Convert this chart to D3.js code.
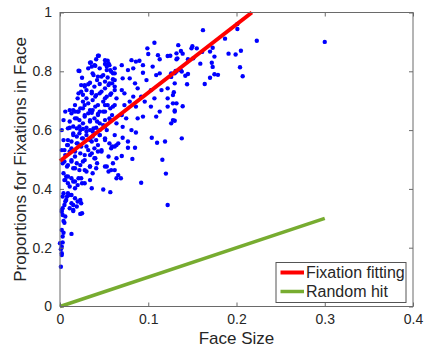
<!DOCTYPE html>
<html>
<head>
<meta charset="utf-8">
<script src="https://cdn.jsdelivr.net/npm/d3@7"></script>
<style>
  body { margin: 0; background: #fff; }
  svg text { font-family: "Liberation Sans", Arial, sans-serif; fill: #262626; }
</style>
</head>
<body>
<svg id="chart" width="427" height="347"></svg>
<script>
const W = 427
const H = 347

// face size vs proportion of fixations in face
const nearAxisPts = [
  [0.002, 0.322], [0.003, 0.311], [0.004, 0.291], [0.005, 0.285], [0.002, 0.260], [0.004, 0.251],
  [0.013, 0.247], [0.003, 0.238], [0.003, 0.218], [0.000, 0.215], [0.002, 0.203], [0.001, 0.195],
  [0.002, 0.181], [0.002, 0.175], [0.001, 0.135], [0.015, 0.325], [0.023, 0.315]
]
const upperLeftPts = [
  [0.043, 0.853], [0.035, 0.830], [0.040, 0.819], [0.032, 0.810], [0.051, 0.838], [0.055, 0.827],
  [0.053, 0.816], [0.057, 0.804], [0.062, 0.810], [0.060, 0.793], [0.022, 0.801], [0.025, 0.778],
  [0.024, 0.753], [0.028, 0.748], [0.032, 0.756], [0.038, 0.787], [0.042, 0.770], [0.047, 0.782],
  [0.051, 0.765], [0.055, 0.753], [0.059, 0.759], [0.062, 0.770], [0.021, 0.725], [0.026, 0.720],
  [0.030, 0.708], [0.036, 0.731], [0.040, 0.714], [0.045, 0.725], [0.051, 0.708], [0.057, 0.720],
  [0.062, 0.736], [0.017, 0.685], [0.023, 0.674], [0.028, 0.685], [0.034, 0.668], [0.040, 0.680],
  [0.045, 0.663], [0.051, 0.685], [0.057, 0.674], [0.062, 0.685], [0.017, 0.663], [0.011, 0.668],
  [0.044, 0.853], [0.041, 0.841], [0.034, 0.829], [0.039, 0.821], [0.036, 0.816], [0.054, 0.836],
  [0.051, 0.825], [0.056, 0.821], [0.045, 0.810], [0.053, 0.804], [0.058, 0.799], [0.062, 0.793],
  [0.021, 0.802], [0.037, 0.793], [0.043, 0.782], [0.049, 0.787], [0.054, 0.779], [0.060, 0.773],
  [0.028, 0.753], [0.034, 0.761], [0.039, 0.748], [0.045, 0.757], [0.051, 0.742], [0.056, 0.759],
  [0.062, 0.748], [0.024, 0.731], [0.030, 0.736], [0.036, 0.725], [0.041, 0.719], [0.047, 0.731],
  [0.053, 0.714], [0.058, 0.725], [0.064, 0.708], [0.020, 0.708], [0.026, 0.697], [0.032, 0.691],
  [0.037, 0.702], [0.043, 0.685], [0.049, 0.697], [0.054, 0.685], [0.060, 0.680], [0.015, 0.668],
  [0.020, 0.663], [0.026, 0.674], [0.032, 0.657], [0.037, 0.668], [0.043, 0.651], [0.049, 0.663],
  [0.017, 0.640], [0.022, 0.634], [0.028, 0.646], [0.034, 0.629], [0.039, 0.640], [0.045, 0.623],
  [0.051, 0.634], [0.056, 0.640]
]
const upperMidPts = [
  [0.107, 0.897], [0.099, 0.878], [0.100, 0.859], [0.111, 0.855], [0.113, 0.841], [0.122, 0.852],
  [0.132, 0.861], [0.081, 0.838], [0.086, 0.833], [0.090, 0.836], [0.070, 0.821], [0.077, 0.804],
  [0.083, 0.810], [0.094, 0.821], [0.105, 0.816], [0.113, 0.793], [0.109, 0.787], [0.126, 0.793],
  [0.132, 0.799], [0.071, 0.776], [0.079, 0.776], [0.085, 0.759], [0.094, 0.795], [0.098, 0.770],
  [0.088, 0.742], [0.103, 0.736], [0.115, 0.736], [0.122, 0.742], [0.130, 0.759], [0.070, 0.736],
  [0.073, 0.725], [0.079, 0.697], [0.083, 0.714], [0.092, 0.714], [0.096, 0.697], [0.107, 0.708],
  [0.122, 0.708], [0.128, 0.719], [0.132, 0.691], [0.073, 0.685], [0.086, 0.680], [0.103, 0.680],
  [0.113, 0.663], [0.122, 0.680], [0.070, 0.651], [0.075, 0.640], [0.088, 0.640], [0.094, 0.646],
  [0.109, 0.646], [0.128, 0.634], [0.130, 0.663]
]
const middleLeftPts = [
  [0.006, 0.663], [0.013, 0.657], [0.021, 0.663], [0.028, 0.651], [0.036, 0.659], [0.043, 0.655],
  [0.051, 0.663], [0.059, 0.651], [0.004, 0.634], [0.011, 0.629], [0.019, 0.640], [0.026, 0.623],
  [0.034, 0.634], [0.042, 0.629], [0.049, 0.617], [0.057, 0.634], [0.064, 0.623], [0.002, 0.600],
  [0.009, 0.606], [0.015, 0.589], [0.023, 0.600], [0.030, 0.595], [0.038, 0.606], [0.045, 0.583],
  [0.053, 0.600], [0.062, 0.583], [0.004, 0.566], [0.008, 0.549], [0.013, 0.561], [0.019, 0.555],
  [0.025, 0.572], [0.030, 0.544], [0.036, 0.561], [0.043, 0.549], [0.051, 0.566], [0.059, 0.544],
  [0.064, 0.549], [0.002, 0.532], [0.006, 0.515], [0.011, 0.527], [0.017, 0.510], [0.023, 0.521],
  [0.028, 0.498], [0.034, 0.515], [0.040, 0.504], [0.047, 0.527], [0.055, 0.510], [0.060, 0.487],
  [0.003, 0.487], [0.008, 0.476], [0.013, 0.493], [0.017, 0.470], [0.023, 0.481], [0.028, 0.464],
  [0.034, 0.476], [0.042, 0.487], [0.051, 0.476], [0.055, 0.459], [0.062, 0.464], [0.064, 0.436],
  [0.004, 0.453], [0.006, 0.430], [0.009, 0.442], [0.015, 0.425], [0.021, 0.436], [0.025, 0.419],
  [0.017, 0.402], [0.049, 0.398], [0.057, 0.389], [0.004, 0.385], [0.008, 0.374], [0.006, 0.357],
  [0.011, 0.379], [0.013, 0.351], [0.019, 0.340], [0.023, 0.362], [0.025, 0.317], [0.002, 0.328],
  [0.006, 0.306], [0.015, 0.328],
  [0.011, 0.608], [0.015, 0.612], [0.019, 0.606], [0.022, 0.612], [0.026, 0.604], [0.030, 0.608],
  [0.034, 0.600], [0.037, 0.595], [0.041, 0.608], [0.045, 0.600], [0.051, 0.612], [0.009, 0.566],
  [0.015, 0.583], [0.019, 0.578], [0.022, 0.589], [0.026, 0.572], [0.030, 0.583], [0.034, 0.566],
  [0.037, 0.578], [0.041, 0.566], [0.045, 0.583], [0.051, 0.572], [0.056, 0.555], [0.058, 0.538],
  [0.062, 0.544], [0.005, 0.532], [0.009, 0.549], [0.013, 0.538], [0.017, 0.527], [0.020, 0.555],
  [0.024, 0.544], [0.028, 0.515], [0.032, 0.532], [0.036, 0.521], [0.039, 0.538], [0.043, 0.527],
  [0.047, 0.532], [0.039, 0.504], [0.005, 0.493], [0.009, 0.481], [0.013, 0.498], [0.015, 0.470],
  [0.019, 0.487], [0.022, 0.464], [0.026, 0.493], [0.030, 0.459], [0.034, 0.476], [0.037, 0.453],
  [0.041, 0.470], [0.053, 0.476], [0.058, 0.464], [0.064, 0.504], [0.005, 0.430], [0.009, 0.419],
  [0.007, 0.442], [0.011, 0.408], [0.013, 0.436], [0.017, 0.425], [0.020, 0.413], [0.024, 0.436],
  [0.028, 0.419], [0.034, 0.430], [0.036, 0.402], [0.003, 0.374], [0.007, 0.362], [0.005, 0.345],
  [0.009, 0.385], [0.013, 0.379], [0.017, 0.368], [0.015, 0.345], [0.020, 0.357], [0.024, 0.351],
  [0.011, 0.334], [0.003, 0.334]
]
const middleRightPts = [
  [0.071, 0.611], [0.081, 0.600], [0.086, 0.592], [0.071, 0.574], [0.066, 0.555], [0.077, 0.561],
  [0.077, 0.540], [0.085, 0.540], [0.104, 0.574], [0.110, 0.557], [0.119, 0.561], [0.070, 0.512],
  [0.082, 0.502], [0.116, 0.499], [0.120, 0.452], [0.066, 0.447], [0.069, 0.436], [0.092, 0.421],
  [0.122, 0.345], [0.130, 0.632], [0.126, 0.623], [0.138, 0.572]
]
const farRightPts = [
  [0.223, 0.904], [0.201, 0.961], [0.201, 0.944], [0.162, 0.940], [0.187, 0.911], [0.205, 0.870],
  [0.199, 0.857], [0.191, 0.860], [0.204, 0.814], [0.207, 0.783], [0.175, 0.850], [0.173, 0.880],
  [0.170, 0.867], [0.172, 0.829], [0.173, 0.815], [0.175, 0.790], [0.179, 0.788], [0.170, 0.778],
  [0.164, 0.757], [0.159, 0.826], [0.161, 0.866], [0.155, 0.878], [0.150, 0.885], [0.149, 0.878],
  [0.151, 0.844], [0.145, 0.841], [0.145, 0.791], [0.142, 0.785], [0.144, 0.756], [0.138, 0.799],
  [0.137, 0.803], [0.133, 0.844], [0.132, 0.841], [0.134, 0.889], [0.137, 0.869], [0.139, 0.860],
  [0.131, 0.801], [0.130, 0.793], [0.129, 0.729], [0.128, 0.691], [0.130, 0.667], [0.139, 0.681],
  [0.126, 0.781], [0.125, 0.853], [0.300, 0.900]
]

const fitLine = [[0, 0.495], [0.2174, 1.0]]
const randomLine = [[0, 0], [0.3, 0.3]]
const xTicks = [0, 0.1, 0.2, 0.3, 0.4]
const yTicks = [0, 0.2, 0.4, 0.6, 0.8, 1]
const legendLabels = ['Fixation fitting', 'Random hit']
const legendColors = ['#ff0000', '#77ac30']

const allPts = [].concat(nearAxisPts, upperLeftPts, upperMidPts, middleLeftPts, middleRightPts, farRightPts)

const PLOT_L = 60
const PLOT_R = 413
const PLOT_T = 12.5
const PLOT_B = 306.5
const TICK = 4

const x = d3.scaleLinear().domain([0, 0.4]).range([PLOT_L, PLOT_R])
const y = d3.scaleLinear().domain([0, 1]).range([PLOT_B, PLOT_T])

const svg = d3.select('#chart')

svg.append('rect')
  .attr('width', W)
  .attr('height', H)
  .attr('fill', '#fff')

// dots
svg.append('g')
  .selectAll('circle')
  .data(allPts)
  .join('circle')
  .attr('cx', d => x(d[0]))
  .attr('cy', d => y(d[1]))
  .attr('r', 2.2)
  .attr('fill', '#0000ff')

const line = d3.line().x(d => x(d[0])).y(d => y(d[1]))

svg.append('path')
  .datum(fitLine)
  .attr('d', line)
  .attr('fill', 'none')
  .attr('stroke', legendColors[0])
  .attr('stroke-width', 4)

svg.append('path')
  .datum(randomLine)
  .attr('d', line)
  .attr('fill', 'none')
  .attr('stroke', legendColors[1])
  .attr('stroke-width', 3.5)

// axes, matlab style: ticks inside, mirrored on top/right
const axisColor = '#6a6a6a'
const fmt = d => d === 0 ? '0' : (d === 1 ? '1' : d3.format('.1f')(d))

const gxb = svg.append('g')
  .attr('transform', `translate(0,${PLOT_B})`)
  .call(d3.axisBottom(x).tickValues(xTicks).tickSizeInner(-TICK).tickSizeOuter(0).tickPadding(8).tickFormat(fmt))
const gxt = svg.append('g')
  .attr('transform', `translate(0,${PLOT_T})`)
  .call(d3.axisTop(x).tickValues(xTicks).tickSizeInner(-TICK).tickSizeOuter(0).tickFormat(''))
const gyl = svg.append('g')
  .attr('transform', `translate(${PLOT_L},0)`)
  .call(d3.axisLeft(y).tickValues(yTicks).tickSizeInner(-TICK).tickSizeOuter(0).tickPadding(8).tickFormat(fmt))
const gyr = svg.append('g')
  .attr('transform', `translate(${PLOT_R},0)`)
  .call(d3.axisRight(y).tickValues(yTicks).tickSizeInner(-TICK).tickSizeOuter(0).tickFormat(''))

for (const g of [gxb, gxt, gyl, gyr]) {
  g.select('.domain').remove()
  g.selectAll('line').attr('stroke', axisColor)
  g.selectAll('text')
    .attr('font-size', 14)
    .attr('font-family', '"Liberation Sans", Arial, sans-serif')
    .attr('fill', '#262626')
}

svg.append('rect')
  .attr('x', PLOT_L)
  .attr('y', PLOT_T)
  .attr('width', PLOT_R - PLOT_L)
  .attr('height', PLOT_B - PLOT_T)
  .attr('fill', 'none')
  .attr('stroke', axisColor)
  .attr('stroke-width', 1)

svg.append('text')
  .attr('x', (PLOT_L + PLOT_R) / 2)
  .attr('y', 344)
  .attr('text-anchor', 'middle')
  .attr('font-size', 17)
  .text('Face Size')

svg.append('text')
  .attr('transform', `translate(25.5,${(PLOT_T + PLOT_B) / 2}) rotate(-90)`)
  .attr('text-anchor', 'middle')
  .attr('font-size', 17)
  .text('Proportions for Fixations in Face')

// legend
const legend = svg.append('g').attr('transform', 'translate(276,262.5)')
legend.append('rect')
  .attr('width', 130)
  .attr('height', 40)
  .attr('fill', '#fff')
  .attr('stroke', '#555')
  .attr('stroke-width', 1)

const item = legend.selectAll('g.item')
  .data(legendLabels)
  .join('g')
  .attr('class', 'item')
  .attr('transform', (d, i) => `translate(0,${10 + i * 19})`)

item.append('line')
  .attr('x1', 4.5)
  .attr('x2', 28)
  .attr('stroke', (d, i) => legendColors[i])
  .attr('stroke-width', (d, i) => i === 0 ? 4 : 3.5)

item.append('text')
  .attr('x', 30)
  .attr('y', 5.5)
  .attr('font-size', 16)
  .text(d => d)
</script>
</body>
</html>
